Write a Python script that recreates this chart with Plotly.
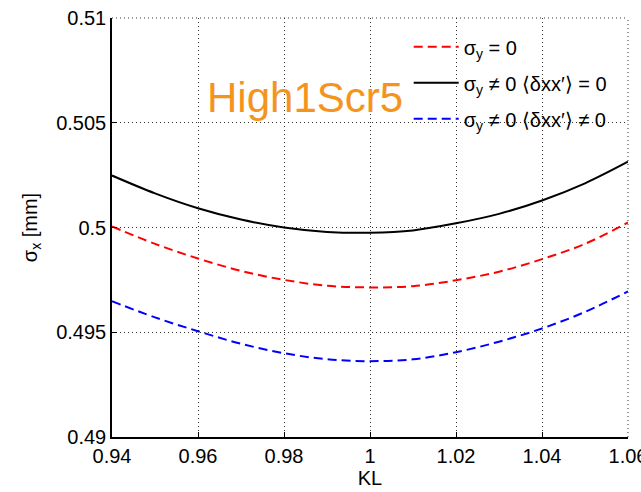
import plotly.graph_objects as go

kl = [0.94, 0.95, 0.96, 0.97, 0.98, 0.99, 1.00, 1.01, 1.02, 1.03, 1.04, 1.05, 1.06]
sig_y0 = [0.50005, 0.49922, 0.49852, 0.49793, 0.49750, 0.49722, 0.49714, 0.49720, 0.49748, 0.49789, 0.49849, 0.49922, 0.50024]
sig_corr0 = [0.50248, 0.50163, 0.50092, 0.50038, 0.50000, 0.49979, 0.49975, 0.49986, 0.50020, 0.50065, 0.50129, 0.50211, 0.50314]
sig_corr1 = [0.49648, 0.49571, 0.49505, 0.49445, 0.49400, 0.49371, 0.49362, 0.49371, 0.49405, 0.49455, 0.49518, 0.49597, 0.49695]

names = ["σ<sub>y</sub> = 0",
         "σ<sub>y</sub> ≠ 0 ⟨δxx′⟩ = 0",
         "σ<sub>y</sub> ≠ 0 ⟨δxx′⟩ ≠ 0"]

FONT = "Liberation Sans, Arial, Helvetica"

fig = go.Figure()
fig.add_trace(go.Scatter(x=kl, y=sig_y0, mode="lines", name=names[0], legendgroup="a",
                         line=dict(color="#ff0000", width=2, dash="9px,5px", shape="spline")))
fig.add_trace(go.Scatter(x=kl, y=sig_corr0, mode="lines", name=names[1], legendgroup="b",
                         line=dict(color="#000000", width=2, shape="spline")))
fig.add_trace(go.Scatter(x=kl, y=sig_corr1, mode="lines", name=names[2], legendgroup="c",
                         line=dict(color="#0000ff", width=2, dash="9px,5px", shape="spline")))

fig.add_annotation(text="High1Scr5", x=0.9849, y=0.5062, xref="x", yref="y",
                   showarrow=False, font=dict(family=FONT, size=42, color="#f5941d"),
                   xanchor="center", yanchor="middle")

# dotted frame on top and right edges (grid at range ends)
fig.add_shape(type="line", xref="paper", yref="paper", x0=0, x1=1, y0=1, y1=1,
              line=dict(color="#333333", width=1, dash="1px,3px"))
fig.add_shape(type="line", xref="paper", yref="paper", x0=1, x1=1, y0=0, y1=1,
              line=dict(color="#333333", width=1, dash="1px,3px"))

axis_common = dict(showline=True, linecolor="black", linewidth=1.5,
                   ticks="inside", ticklen=5, tickcolor="black",
                   showgrid=True, gridcolor="#333333", griddash="1px,3px", gridwidth=1,
                   zeroline=False, automargin=False,
                   tickfont=dict(family=FONT, size=20, color="black"))

fig.update_xaxes(range=[0.94, 1.06], tickvals=[0.94, 0.96, 0.98, 1.0, 1.02, 1.04, 1.06],
                 ticktext=["0.94", "0.96", "0.98", "1", "1.02", "1.04", "1.06"],
                 ticklabeloverflow="allow",
                 title=dict(text="KL", font=dict(family=FONT, size=20, color="black"), standoff=2),
                 **axis_common)
fig.update_yaxes(range=[0.49, 0.51], tickvals=[0.49, 0.495, 0.5, 0.505, 0.51],
                 ticktext=["0.49", "0.495", "0.5", "0.505", "0.51"],
                 ticklabeloverflow="allow",
                 title=dict(text="σ<sub>x</sub> [mm]", font=dict(family=FONT, size=20, color="black"), standoff=13),
                 **axis_common)

fig.update_layout(
    width=641, height=492,
    margin=dict(l=112, r=13, t=18, b=55),
    plot_bgcolor="white", paper_bgcolor="white",
    showlegend=True,
    legend=dict(x=0.575, y=0.978, xanchor="left", yanchor="top",
                bgcolor="rgba(0,0,0,0)", borderwidth=0,
                font=dict(family=FONT, size=20, color="black"),
                tracegroupgap=7, itemwidth=45),
)

fig.write_html("out.html")
